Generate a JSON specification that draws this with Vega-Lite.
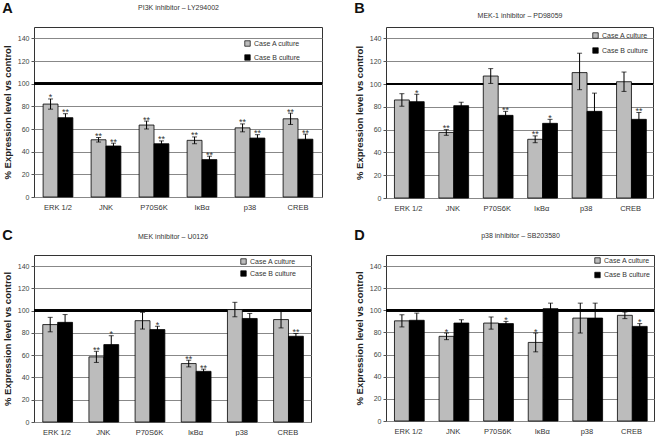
{
  "$schema": "https://vega.github.io/schema/vega-lite/v6.json",
  "padding": {"left": 1, "top": 0, "right": 4, "bottom": 0},
  "background": "white",
  "config": {
    "font": "Liberation Sans",
    "view": {"stroke": "#333", "strokeWidth": 1},
    "axisX": {"labelAngle": 0, "ticks": false, "domain": false, "grid": false, "labelFontSize": 7.5, "labelColor": "#333", "labelPadding": 6},
    "axisY": {"minExtent": 0, "labelOverlap": false, "tickCount": 8},
    "title": {"font": "Liberation Sans", "fontSize": 14.5, "fontWeight": "bold", "color": "#111", "anchor": "start", "frame": "bounds", "baseline": "alphabetic"},
    "legend": {"labelFontSize": 7, "labelColor": "#333", "symbolType": "square", "symbolSize": 30, "symbolStrokeColor": "black", "symbolStrokeWidth": 0.7, "padding": 0, "labelOffset": 3}
  },
  "datasets": {
    "vals": [
      {"panel": "A", "target": "ERK 1/2", "case": "Case A culture", "v": 82, "lo": 77.5, "hi": 86.5, "sig": "*"},
      {"panel": "A", "target": "ERK 1/2", "case": "Case B culture", "v": 70, "lo": 66.5, "hi": 73.5, "sig": "**"},
      {"panel": "A", "target": "JNK", "case": "Case A culture", "v": 50.5, "lo": 48.5, "hi": 52.5, "sig": "**"},
      {"panel": "A", "target": "JNK", "case": "Case B culture", "v": 45, "lo": 42.5, "hi": 47.5, "sig": "**"},
      {"panel": "A", "target": "P70S6K", "case": "Case A culture", "v": 63.5, "lo": 60, "hi": 67, "sig": "**"},
      {"panel": "A", "target": "P70S6K", "case": "Case B culture", "v": 47, "lo": 44.5, "hi": 49.5, "sig": "**"},
      {"panel": "A", "target": "IκBα", "case": "Case A culture", "v": 50, "lo": 47, "hi": 53, "sig": "**"},
      {"panel": "A", "target": "IκBα", "case": "Case B culture", "v": 33, "lo": 30, "hi": 36, "sig": "**"},
      {"panel": "A", "target": "p38", "case": "Case A culture", "v": 61, "lo": 57.5, "hi": 64.5, "sig": "**"},
      {"panel": "A", "target": "p38", "case": "Case B culture", "v": 52, "lo": 49, "hi": 55, "sig": "**"},
      {"panel": "A", "target": "CREB", "case": "Case A culture", "v": 69, "lo": 64, "hi": 74, "sig": "**"},
      {"panel": "A", "target": "CREB", "case": "Case B culture", "v": 51, "lo": 46.5, "hi": 55.5, "sig": "**"},

      {"panel": "B", "target": "ERK 1/2", "case": "Case A culture", "v": 86, "lo": 80.5, "hi": 91.5, "sig": ""},
      {"panel": "B", "target": "ERK 1/2", "case": "Case B culture", "v": 84.5, "lo": 78, "hi": 91, "sig": "*"},
      {"panel": "B", "target": "JNK", "case": "Case A culture", "v": 57.5, "lo": 55, "hi": 60, "sig": "**"},
      {"panel": "B", "target": "JNK", "case": "Case B culture", "v": 81, "lo": 78, "hi": 84, "sig": ""},
      {"panel": "B", "target": "P70S6K", "case": "Case A culture", "v": 107, "lo": 100.5, "hi": 113.5, "sig": ""},
      {"panel": "B", "target": "P70S6K", "case": "Case B culture", "v": 72.5, "lo": 69, "hi": 76, "sig": "**"},
      {"panel": "B", "target": "IκBα", "case": "Case A culture", "v": 51.5, "lo": 48.5, "hi": 54.5, "sig": "**"},
      {"panel": "B", "target": "IκBα", "case": "Case B culture", "v": 65.5, "lo": 62, "hi": 69, "sig": "*"},
      {"panel": "B", "target": "p38", "case": "Case A culture", "v": 110, "lo": 95, "hi": 127, "sig": ""},
      {"panel": "B", "target": "p38", "case": "Case B culture", "v": 76, "lo": 60, "hi": 92, "sig": ""},
      {"panel": "B", "target": "CREB", "case": "Case A culture", "v": 102, "lo": 93.5, "hi": 110.5, "sig": ""},
      {"panel": "B", "target": "CREB", "case": "Case B culture", "v": 69, "lo": 63, "hi": 75, "sig": "**"},

      {"panel": "C", "target": "ERK 1/2", "case": "Case A culture", "v": 87.5, "lo": 81, "hi": 94, "sig": ""},
      {"panel": "C", "target": "ERK 1/2", "case": "Case B culture", "v": 89.5, "lo": 82.5, "hi": 96.5, "sig": ""},
      {"panel": "C", "target": "JNK", "case": "Case A culture", "v": 58.5, "lo": 53.5, "hi": 63.5, "sig": "**"},
      {"panel": "C", "target": "JNK", "case": "Case B culture", "v": 69.5, "lo": 61.5, "hi": 77.5, "sig": "*"},
      {"panel": "C", "target": "P70S6K", "case": "Case A culture", "v": 91, "lo": 83.5, "hi": 98.5, "sig": ""},
      {"panel": "C", "target": "P70S6K", "case": "Case B culture", "v": 83, "lo": 80, "hi": 86, "sig": "*"},
      {"panel": "C", "target": "IκBα", "case": "Case A culture", "v": 52.5, "lo": 49.5, "hi": 55.5, "sig": "**"},
      {"panel": "C", "target": "IκBα", "case": "Case B culture", "v": 45.5, "lo": 43.5, "hi": 47.5, "sig": "**"},
      {"panel": "C", "target": "p38", "case": "Case A culture", "v": 101, "lo": 94.5, "hi": 107.5, "sig": ""},
      {"panel": "C", "target": "p38", "case": "Case B culture", "v": 93, "lo": 88.5, "hi": 97.5, "sig": ""},
      {"panel": "C", "target": "CREB", "case": "Case A culture", "v": 92, "lo": 84.5, "hi": 99.5, "sig": ""},
      {"panel": "C", "target": "CREB", "case": "Case B culture", "v": 77, "lo": 74.5, "hi": 79.5, "sig": "**"},

      {"panel": "D", "target": "ERK 1/2", "case": "Case A culture", "v": 90.5, "lo": 85, "hi": 96, "sig": ""},
      {"panel": "D", "target": "ERK 1/2", "case": "Case B culture", "v": 91, "lo": 84.5, "hi": 97.5, "sig": ""},
      {"panel": "D", "target": "JNK", "case": "Case A culture", "v": 76.5, "lo": 73.5, "hi": 79.5, "sig": "*"},
      {"panel": "D", "target": "JNK", "case": "Case B culture", "v": 88.5, "lo": 85.5, "hi": 91.5, "sig": ""},
      {"panel": "D", "target": "P70S6K", "case": "Case A culture", "v": 88.5, "lo": 83, "hi": 94, "sig": ""},
      {"panel": "D", "target": "P70S6K", "case": "Case B culture", "v": 88, "lo": 86, "hi": 90, "sig": "*"},
      {"panel": "D", "target": "IκBα", "case": "Case A culture", "v": 71, "lo": 62.5, "hi": 79.5, "sig": "*"},
      {"panel": "D", "target": "IκBα", "case": "Case B culture", "v": 101.5, "lo": 96.5, "hi": 106.5, "sig": ""},
      {"panel": "D", "target": "p38", "case": "Case A culture", "v": 93, "lo": 79.5, "hi": 106.5, "sig": ""},
      {"panel": "D", "target": "p38", "case": "Case B culture", "v": 93, "lo": 79.5, "hi": 106.5, "sig": ""},
      {"panel": "D", "target": "CREB", "case": "Case A culture", "v": 95.5, "lo": 92.5, "hi": 98.5, "sig": ""},
      {"panel": "D", "target": "CREB", "case": "Case B culture", "v": 85.5, "lo": 83, "hi": 88, "sig": "*"}
    ]
  },
  "data": {"name": "vals"},
  "resolve": {"scale": {"fill": "independent"}, "legend": {"fill": "independent"}},
  "spacing": 15,
  "vconcat": [
    {
      "resolve": {"scale": {"fill": "independent"}, "legend": {"fill": "independent"}},
      "spacing": 29,
      "hconcat": [
        {
          "width": 288, "height": 170,
          "title": {"text": "A", "offset": -13},
          "transform": [{"filter": "datum.panel == 'A'"}],
          "layer": [
            {"mark": {"type": "bar", "opacity": 0}, "encoding": {"x": {"field": "target", "type": "nominal", "sort": ["ERK 1/2", "JNK", "P70S6K", "IκBα", "p38", "CREB"], "scale": {"paddingInner": 0.38, "paddingOuter": 0.19}, "axis": {"orient": "top", "title": "PI3K inhibitor – LY294002", "labels": false, "ticks": false, "domain": false, "titlePadding": 17, "titleFontSize": 7, "titleFontWeight": "normal", "titleColor": "#333"}}}},
            {"mark": {"type": "rule", "color": "black", "strokeWidth": 2}, "encoding": {"y": {"datum": 100, "type": "quantitative", "scale": {"domain": [0, 150], "nice": false}, "axis": {"title": "% Expression level vs control", "values": [0, 20, 40, 60, 80, 100, 120, 140], "grid": true, "gridColor": "#888", "gridWidth": 1, "domain": false, "tickSize": 3, "tickColor": "#555", "labelFontSize": 7, "labelColor": "#444", "labelPadding": 2, "titleFontSize": 9.5, "titleFontWeight": "bold", "titlePadding": 5, "titleColor": "#222"}}}},
            {"mark": {"type": "bar", "stroke": "black", "strokeWidth": 0.8}, "encoding": {
              "x": {"field": "target", "type": "nominal", "sort": ["ERK 1/2", "JNK", "P70S6K", "IκBα", "p38", "CREB"], "axis": {"orient": "bottom", "title": null}},
              "xOffset": {"field": "case", "type": "nominal", "scale": {"paddingInner": 0, "paddingOuter": 0}},
              "y": {"field": "v", "type": "quantitative", "scale": {"domain": [0, 150], "nice": false}, "axis": {"title": "% Expression level vs control", "values": [0, 20, 40, 60, 80, 100, 120, 140], "grid": true, "gridColor": "#888", "gridWidth": 1, "domain": false, "tickSize": 3, "tickColor": "#555", "labelFontSize": 7, "labelColor": "#444", "labelPadding": 2, "titleFontSize": 9.5, "titleFontWeight": "bold", "titlePadding": 5, "titleColor": "#222"}},
              "fill": {"field": "case", "type": "nominal", "scale": {"domain": ["Case A culture", "Case B culture"], "range": ["#bcbcbc", "#000000"]}, "legend": {"title": null, "orient": "none", "legendX": 210, "legendY": 13, "rowPadding": 5}}}},
            {"mark": {"type": "rule", "color": "black", "strokeWidth": 1}, "encoding": {
              "x": {"field": "target", "type": "nominal", "sort": ["ERK 1/2", "JNK", "P70S6K", "IκBα", "p38", "CREB"], "axis": null},
              "xOffset": {"field": "case", "type": "nominal"},
              "y": {"field": "lo", "type": "quantitative", "axis": {"title": "% Expression level vs control", "values": [0, 20, 40, 60, 80, 100, 120, 140], "grid": true, "gridColor": "#888", "gridWidth": 1, "domain": false, "tickSize": 3, "tickColor": "#555", "labelFontSize": 7, "labelColor": "#444", "labelPadding": 2, "titleFontSize": 9.5, "titleFontWeight": "bold", "titlePadding": 5, "titleColor": "#222"}}, "y2": {"field": "hi"}}},
            {"mark": {"type": "tick", "color": "black", "size": 5, "thickness": 1}, "encoding": {
              "x": {"field": "target", "type": "nominal", "sort": ["ERK 1/2", "JNK", "P70S6K", "IκBα", "p38", "CREB"], "axis": null},
              "xOffset": {"field": "case", "type": "nominal"},
              "y": {"field": "lo", "type": "quantitative", "axis": {"title": "% Expression level vs control", "values": [0, 20, 40, 60, 80, 100, 120, 140], "grid": true, "gridColor": "#888", "gridWidth": 1, "domain": false, "tickSize": 3, "tickColor": "#555", "labelFontSize": 7, "labelColor": "#444", "labelPadding": 2, "titleFontSize": 9.5, "titleFontWeight": "bold", "titlePadding": 5, "titleColor": "#222"}}}},
            {"mark": {"type": "tick", "color": "black", "size": 5, "thickness": 1}, "encoding": {
              "x": {"field": "target", "type": "nominal", "sort": ["ERK 1/2", "JNK", "P70S6K", "IκBα", "p38", "CREB"], "axis": null},
              "xOffset": {"field": "case", "type": "nominal"},
              "y": {"field": "hi", "type": "quantitative", "axis": {"title": "% Expression level vs control", "values": [0, 20, 40, 60, 80, 100, 120, 140], "grid": true, "gridColor": "#888", "gridWidth": 1, "domain": false, "tickSize": 3, "tickColor": "#555", "labelFontSize": 7, "labelColor": "#444", "labelPadding": 2, "titleFontSize": 9.5, "titleFontWeight": "bold", "titlePadding": 5, "titleColor": "#222"}}}},
            {"mark": {"type": "text", "color": "#333", "fontSize": 9, "baseline": "alphabetic", "dy": 1.5}, "encoding": {
              "x": {"field": "target", "type": "nominal", "sort": ["ERK 1/2", "JNK", "P70S6K", "IκBα", "p38", "CREB"], "axis": null},
              "xOffset": {"field": "case", "type": "nominal"},
              "y": {"field": "hi", "type": "quantitative", "axis": {"title": "% Expression level vs control", "values": [0, 20, 40, 60, 80, 100, 120, 140], "grid": true, "gridColor": "#888", "gridWidth": 1, "domain": false, "tickSize": 3, "tickColor": "#555", "labelFontSize": 7, "labelColor": "#444", "labelPadding": 2, "titleFontSize": 9.5, "titleFontWeight": "bold", "titlePadding": 5, "titleColor": "#222"}},
              "text": {"field": "sig"}}}
          ]
        },
        {
          "width": 267, "height": 171,
          "title": {"text": "B", "offset": -5},
          "transform": [{"filter": "datum.panel == 'B'"}],
          "layer": [
            {"mark": {"type": "bar", "opacity": 0}, "encoding": {"x": {"field": "target", "type": "nominal", "sort": ["ERK 1/2", "JNK", "P70S6K", "IκBα", "p38", "CREB"], "scale": {"paddingInner": 0.37, "paddingOuter": 0.19}, "axis": {"orient": "top", "title": "MEK-1 inhibitor – PD98059", "labels": false, "ticks": false, "domain": false, "titlePadding": 9, "titleFontSize": 7, "titleFontWeight": "normal", "titleColor": "#333"}}}},
            {"mark": {"type": "rule", "color": "black", "strokeWidth": 2}, "encoding": {"y": {"datum": 100, "type": "quantitative", "scale": {"domain": [0, 150], "nice": false}, "axis": {"title": "% Expression level vs control", "values": [0, 20, 40, 60, 80, 100, 120, 140], "grid": true, "gridColor": "#888", "gridWidth": 1, "domain": false, "tickSize": 3, "tickColor": "#555", "labelFontSize": 7, "labelColor": "#444", "labelPadding": 2, "titleFontSize": 9.5, "titleFontWeight": "bold", "titlePadding": 5, "titleColor": "#222"}}}},
            {"mark": {"type": "bar", "stroke": "black", "strokeWidth": 0.8}, "encoding": {
              "x": {"field": "target", "type": "nominal", "sort": ["ERK 1/2", "JNK", "P70S6K", "IκBα", "p38", "CREB"], "axis": {"orient": "bottom", "title": null}},
              "xOffset": {"field": "case", "type": "nominal", "scale": {"paddingInner": 0, "paddingOuter": 0}},
              "y": {"field": "v", "type": "quantitative", "scale": {"domain": [0, 150], "nice": false}, "axis": {"title": "% Expression level vs control", "values": [0, 20, 40, 60, 80, 100, 120, 140], "grid": true, "gridColor": "#888", "gridWidth": 1, "domain": false, "tickSize": 3, "tickColor": "#555", "labelFontSize": 7, "labelColor": "#444", "labelPadding": 2, "titleFontSize": 9.5, "titleFontWeight": "bold", "titlePadding": 5, "titleColor": "#222"}},
              "fill": {"field": "case", "type": "nominal", "scale": {"domain": ["Case A culture", "Case B culture"], "range": ["#bcbcbc", "#000000"]}, "legend": {"title": null, "orient": "none", "legendX": 206, "legendY": 5, "rowPadding": 6}}}},
            {"mark": {"type": "rule", "color": "black", "strokeWidth": 1}, "encoding": {
              "x": {"field": "target", "type": "nominal", "sort": ["ERK 1/2", "JNK", "P70S6K", "IκBα", "p38", "CREB"], "axis": null},
              "xOffset": {"field": "case", "type": "nominal"},
              "y": {"field": "lo", "type": "quantitative", "axis": {"title": "% Expression level vs control", "values": [0, 20, 40, 60, 80, 100, 120, 140], "grid": true, "gridColor": "#888", "gridWidth": 1, "domain": false, "tickSize": 3, "tickColor": "#555", "labelFontSize": 7, "labelColor": "#444", "labelPadding": 2, "titleFontSize": 9.5, "titleFontWeight": "bold", "titlePadding": 5, "titleColor": "#222"}}, "y2": {"field": "hi"}}},
            {"mark": {"type": "tick", "color": "black", "size": 5, "thickness": 1}, "encoding": {
              "x": {"field": "target", "type": "nominal", "sort": ["ERK 1/2", "JNK", "P70S6K", "IκBα", "p38", "CREB"], "axis": null},
              "xOffset": {"field": "case", "type": "nominal"},
              "y": {"field": "lo", "type": "quantitative", "axis": {"title": "% Expression level vs control", "values": [0, 20, 40, 60, 80, 100, 120, 140], "grid": true, "gridColor": "#888", "gridWidth": 1, "domain": false, "tickSize": 3, "tickColor": "#555", "labelFontSize": 7, "labelColor": "#444", "labelPadding": 2, "titleFontSize": 9.5, "titleFontWeight": "bold", "titlePadding": 5, "titleColor": "#222"}}}},
            {"mark": {"type": "tick", "color": "black", "size": 5, "thickness": 1}, "encoding": {
              "x": {"field": "target", "type": "nominal", "sort": ["ERK 1/2", "JNK", "P70S6K", "IκBα", "p38", "CREB"], "axis": null},
              "xOffset": {"field": "case", "type": "nominal"},
              "y": {"field": "hi", "type": "quantitative", "axis": {"title": "% Expression level vs control", "values": [0, 20, 40, 60, 80, 100, 120, 140], "grid": true, "gridColor": "#888", "gridWidth": 1, "domain": false, "tickSize": 3, "tickColor": "#555", "labelFontSize": 7, "labelColor": "#444", "labelPadding": 2, "titleFontSize": 9.5, "titleFontWeight": "bold", "titlePadding": 5, "titleColor": "#222"}}}},
            {"mark": {"type": "text", "color": "#333", "fontSize": 9, "baseline": "alphabetic", "dy": 1.5}, "encoding": {
              "x": {"field": "target", "type": "nominal", "sort": ["ERK 1/2", "JNK", "P70S6K", "IκBα", "p38", "CREB"], "axis": null},
              "xOffset": {"field": "case", "type": "nominal"},
              "y": {"field": "hi", "type": "quantitative", "axis": {"title": "% Expression level vs control", "values": [0, 20, 40, 60, 80, 100, 120, 140], "grid": true, "gridColor": "#888", "gridWidth": 1, "domain": false, "tickSize": 3, "tickColor": "#555", "labelFontSize": 7, "labelColor": "#444", "labelPadding": 2, "titleFontSize": 9.5, "titleFontWeight": "bold", "titlePadding": 5, "titleColor": "#222"}},
              "text": {"field": "sig"}}}
          ]
        }
      ]
    },
    {
      "resolve": {"scale": {"fill": "independent"}, "legend": {"fill": "independent"}},
      "spacing": 40,
      "hconcat": [
        {
          "width": 277, "height": 167,
          "title": {"text": "C", "offset": -11},
          "transform": [{"filter": "datum.panel == 'C'"}],
          "layer": [
            {"mark": {"type": "bar", "opacity": 0}, "encoding": {"x": {"field": "target", "type": "nominal", "sort": ["ERK 1/2", "JNK", "P70S6K", "IκBα", "p38", "CREB"], "scale": {"paddingInner": 0.38, "paddingOuter": 0.19}, "axis": {"orient": "top", "title": "MEK inhibitor – U0126", "labels": false, "ticks": false, "domain": false, "titlePadding": 16, "titleFontSize": 7, "titleFontWeight": "normal", "titleColor": "#333"}}}},
            {"mark": {"type": "rule", "color": "black", "strokeWidth": 2}, "encoding": {"y": {"datum": 100, "type": "quantitative", "scale": {"domain": [0, 150], "nice": false}, "axis": {"title": "% Expression level vs control", "values": [0, 20, 40, 60, 80, 100, 120, 140], "grid": true, "gridColor": "#888", "gridWidth": 1, "domain": false, "tickSize": 3, "tickColor": "#555", "labelFontSize": 7, "labelColor": "#444", "labelPadding": 2, "titleFontSize": 9.5, "titleFontWeight": "bold", "titlePadding": 5, "titleColor": "#222"}}}},
            {"mark": {"type": "bar", "stroke": "black", "strokeWidth": 0.8}, "encoding": {
              "x": {"field": "target", "type": "nominal", "sort": ["ERK 1/2", "JNK", "P70S6K", "IκBα", "p38", "CREB"], "axis": {"orient": "bottom", "title": null}},
              "xOffset": {"field": "case", "type": "nominal", "scale": {"paddingInner": 0, "paddingOuter": 0}},
              "y": {"field": "v", "type": "quantitative", "scale": {"domain": [0, 150], "nice": false}, "axis": {"title": "% Expression level vs control", "values": [0, 20, 40, 60, 80, 100, 120, 140], "grid": true, "gridColor": "#888", "gridWidth": 1, "domain": false, "tickSize": 3, "tickColor": "#555", "labelFontSize": 7, "labelColor": "#444", "labelPadding": 2, "titleFontSize": 9.5, "titleFontWeight": "bold", "titlePadding": 5, "titleColor": "#222"}},
              "fill": {"field": "case", "type": "nominal", "scale": {"domain": ["Case A culture", "Case B culture"], "range": ["#bcbcbc", "#000000"]}, "legend": {"title": null, "orient": "none", "legendX": 206, "legendY": 3, "rowPadding": 3}}}},
            {"mark": {"type": "rule", "color": "black", "strokeWidth": 1}, "encoding": {
              "x": {"field": "target", "type": "nominal", "sort": ["ERK 1/2", "JNK", "P70S6K", "IκBα", "p38", "CREB"], "axis": null},
              "xOffset": {"field": "case", "type": "nominal"},
              "y": {"field": "lo", "type": "quantitative", "axis": {"title": "% Expression level vs control", "values": [0, 20, 40, 60, 80, 100, 120, 140], "grid": true, "gridColor": "#888", "gridWidth": 1, "domain": false, "tickSize": 3, "tickColor": "#555", "labelFontSize": 7, "labelColor": "#444", "labelPadding": 2, "titleFontSize": 9.5, "titleFontWeight": "bold", "titlePadding": 5, "titleColor": "#222"}}, "y2": {"field": "hi"}}},
            {"mark": {"type": "tick", "color": "black", "size": 5, "thickness": 1}, "encoding": {
              "x": {"field": "target", "type": "nominal", "sort": ["ERK 1/2", "JNK", "P70S6K", "IκBα", "p38", "CREB"], "axis": null},
              "xOffset": {"field": "case", "type": "nominal"},
              "y": {"field": "lo", "type": "quantitative", "axis": {"title": "% Expression level vs control", "values": [0, 20, 40, 60, 80, 100, 120, 140], "grid": true, "gridColor": "#888", "gridWidth": 1, "domain": false, "tickSize": 3, "tickColor": "#555", "labelFontSize": 7, "labelColor": "#444", "labelPadding": 2, "titleFontSize": 9.5, "titleFontWeight": "bold", "titlePadding": 5, "titleColor": "#222"}}}},
            {"mark": {"type": "tick", "color": "black", "size": 5, "thickness": 1}, "encoding": {
              "x": {"field": "target", "type": "nominal", "sort": ["ERK 1/2", "JNK", "P70S6K", "IκBα", "p38", "CREB"], "axis": null},
              "xOffset": {"field": "case", "type": "nominal"},
              "y": {"field": "hi", "type": "quantitative", "axis": {"title": "% Expression level vs control", "values": [0, 20, 40, 60, 80, 100, 120, 140], "grid": true, "gridColor": "#888", "gridWidth": 1, "domain": false, "tickSize": 3, "tickColor": "#555", "labelFontSize": 7, "labelColor": "#444", "labelPadding": 2, "titleFontSize": 9.5, "titleFontWeight": "bold", "titlePadding": 5, "titleColor": "#222"}}}},
            {"mark": {"type": "text", "color": "#333", "fontSize": 9, "baseline": "alphabetic", "dy": 1.5}, "encoding": {
              "x": {"field": "target", "type": "nominal", "sort": ["ERK 1/2", "JNK", "P70S6K", "IκBα", "p38", "CREB"], "axis": null},
              "xOffset": {"field": "case", "type": "nominal"},
              "y": {"field": "hi", "type": "quantitative", "axis": {"title": "% Expression level vs control", "values": [0, 20, 40, 60, 80, 100, 120, 140], "grid": true, "gridColor": "#888", "gridWidth": 1, "domain": false, "tickSize": 3, "tickColor": "#555", "labelFontSize": 7, "labelColor": "#444", "labelPadding": 2, "titleFontSize": 9.5, "titleFontWeight": "bold", "titlePadding": 5, "titleColor": "#222"}},
              "text": {"field": "sig"}}}
          ]
        },
        {
          "width": 268, "height": 166,
          "title": {"text": "D", "offset": -11.5},
          "transform": [{"filter": "datum.panel == 'D'"}],
          "layer": [
            {"mark": {"type": "bar", "opacity": 0}, "encoding": {"x": {"field": "target", "type": "nominal", "sort": ["ERK 1/2", "JNK", "P70S6K", "IκBα", "p38", "CREB"], "scale": {"paddingInner": 0.37, "paddingOuter": 0.19}, "axis": {"orient": "top", "title": "p38 inhibitor – SB203580", "labels": false, "ticks": false, "domain": false, "titlePadding": 16.5, "titleFontSize": 7, "titleFontWeight": "normal", "titleColor": "#333"}}}},
            {"mark": {"type": "rule", "color": "black", "strokeWidth": 2}, "encoding": {"y": {"datum": 100, "type": "quantitative", "scale": {"domain": [0, 150], "nice": false}, "axis": {"title": "% Expression level vs control", "values": [0, 20, 40, 60, 80, 100, 120, 140], "grid": true, "gridColor": "#888", "gridWidth": 1, "domain": false, "tickSize": 3, "tickColor": "#555", "labelFontSize": 7, "labelColor": "#444", "labelPadding": 2, "titleFontSize": 9.5, "titleFontWeight": "bold", "titlePadding": 5, "titleColor": "#222"}}}},
            {"mark": {"type": "bar", "stroke": "black", "strokeWidth": 0.8}, "encoding": {
              "x": {"field": "target", "type": "nominal", "sort": ["ERK 1/2", "JNK", "P70S6K", "IκBα", "p38", "CREB"], "axis": {"orient": "bottom", "title": null}},
              "xOffset": {"field": "case", "type": "nominal", "scale": {"paddingInner": 0, "paddingOuter": 0}},
              "y": {"field": "v", "type": "quantitative", "scale": {"domain": [0, 150], "nice": false}, "axis": {"title": "% Expression level vs control", "values": [0, 20, 40, 60, 80, 100, 120, 140], "grid": true, "gridColor": "#888", "gridWidth": 1, "domain": false, "tickSize": 3, "tickColor": "#555", "labelFontSize": 7, "labelColor": "#444", "labelPadding": 2, "titleFontSize": 9.5, "titleFontWeight": "bold", "titlePadding": 5, "titleColor": "#222"}},
              "fill": {"field": "case", "type": "nominal", "scale": {"domain": ["Case A culture", "Case B culture"], "range": ["#bcbcbc", "#000000"]}, "legend": {"title": null, "orient": "none", "legendX": 208, "legendY": 2, "rowPadding": 5.5}}}},
            {"mark": {"type": "rule", "color": "black", "strokeWidth": 1}, "encoding": {
              "x": {"field": "target", "type": "nominal", "sort": ["ERK 1/2", "JNK", "P70S6K", "IκBα", "p38", "CREB"], "axis": null},
              "xOffset": {"field": "case", "type": "nominal"},
              "y": {"field": "lo", "type": "quantitative", "axis": {"title": "% Expression level vs control", "values": [0, 20, 40, 60, 80, 100, 120, 140], "grid": true, "gridColor": "#888", "gridWidth": 1, "domain": false, "tickSize": 3, "tickColor": "#555", "labelFontSize": 7, "labelColor": "#444", "labelPadding": 2, "titleFontSize": 9.5, "titleFontWeight": "bold", "titlePadding": 5, "titleColor": "#222"}}, "y2": {"field": "hi"}}},
            {"mark": {"type": "tick", "color": "black", "size": 5, "thickness": 1}, "encoding": {
              "x": {"field": "target", "type": "nominal", "sort": ["ERK 1/2", "JNK", "P70S6K", "IκBα", "p38", "CREB"], "axis": null},
              "xOffset": {"field": "case", "type": "nominal"},
              "y": {"field": "lo", "type": "quantitative", "axis": {"title": "% Expression level vs control", "values": [0, 20, 40, 60, 80, 100, 120, 140], "grid": true, "gridColor": "#888", "gridWidth": 1, "domain": false, "tickSize": 3, "tickColor": "#555", "labelFontSize": 7, "labelColor": "#444", "labelPadding": 2, "titleFontSize": 9.5, "titleFontWeight": "bold", "titlePadding": 5, "titleColor": "#222"}}}},
            {"mark": {"type": "tick", "color": "black", "size": 5, "thickness": 1}, "encoding": {
              "x": {"field": "target", "type": "nominal", "sort": ["ERK 1/2", "JNK", "P70S6K", "IκBα", "p38", "CREB"], "axis": null},
              "xOffset": {"field": "case", "type": "nominal"},
              "y": {"field": "hi", "type": "quantitative", "axis": {"title": "% Expression level vs control", "values": [0, 20, 40, 60, 80, 100, 120, 140], "grid": true, "gridColor": "#888", "gridWidth": 1, "domain": false, "tickSize": 3, "tickColor": "#555", "labelFontSize": 7, "labelColor": "#444", "labelPadding": 2, "titleFontSize": 9.5, "titleFontWeight": "bold", "titlePadding": 5, "titleColor": "#222"}}}},
            {"mark": {"type": "text", "color": "#333", "fontSize": 9, "baseline": "alphabetic", "dy": 1.5}, "encoding": {
              "x": {"field": "target", "type": "nominal", "sort": ["ERK 1/2", "JNK", "P70S6K", "IκBα", "p38", "CREB"], "axis": null},
              "xOffset": {"field": "case", "type": "nominal"},
              "y": {"field": "hi", "type": "quantitative", "axis": {"title": "% Expression level vs control", "values": [0, 20, 40, 60, 80, 100, 120, 140], "grid": true, "gridColor": "#888", "gridWidth": 1, "domain": false, "tickSize": 3, "tickColor": "#555", "labelFontSize": 7, "labelColor": "#444", "labelPadding": 2, "titleFontSize": 9.5, "titleFontWeight": "bold", "titlePadding": 5, "titleColor": "#222"}},
              "text": {"field": "sig"}}}
          ]
        }
      ]
    }
  ]
}
